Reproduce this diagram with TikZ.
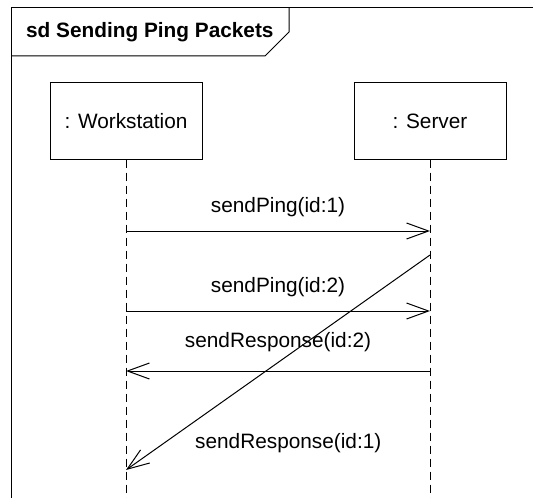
\documentclass[tikz,border=0pt]{standalone}
\usepackage{fontspec}
\setmainfont{Liberation Sans}
\usetikzlibrary{arrows.meta,positioning}
\tikzset{>/.tip={Straight Barb[length=11pt,width=8pt]}}
\tikzset{lifebox/.style={draw,minimum width=76pt,minimum height=38pt,inner sep=0pt}}
\tikzset{lifeline/.style={dash pattern=on 4pt off 2.5pt}}
\tikzset{msg/.style={->}}

\begin{document}
\begin{tikzpicture}[x=0.5pt,y=-0.5pt,line width=0.5pt,font=\fontsize{10.4pt}{12pt}\selectfont]
      \useasboundingbox (0,0) rectangle (533,497);
      % frame
      \draw (11,510) -- (11,8) -- (545,8);
      \draw (11,56) -- (265,56) -- (289,32) -- (289,8);
      \node[anchor=west,font=\fontsize{10.4pt}{12pt}\selectfont\bfseries](title) at (19,32){sd Sending Ping Packets};

      % lifelines
      \node[lifebox](ws) at (126,121){: Workstation};
      \node[lifebox,right=75.5pt of ws](srv){: Server};
      \coordinate(wsend) at (ws.south |- 0,505);
      \coordinate(srvend) at (srv.south |- 0,505);
      \draw[lifeline] (ws) -- (wsend);
      \draw[lifeline] (srv) -- (srvend);

      % messages
      \coordinate(ping1a) at (ws.south |- 0,231);
      \coordinate(ping1b) at (srv.south |- 0,231);
      \coordinate(ping2a) at (ws.south |- 0,311);
      \coordinate(ping2b) at (srv.south |- 0,311);
      \coordinate(resp2a) at (srv.south |- 0,371);
      \coordinate(resp2b) at (ws.south |- 0,371);
      \coordinate(resp1a) at (srv.south |- 0,255);
      \coordinate(resp1b) at (ws.south |- 0,470);

      \draw[msg] (ping1a) -- node[above=3.5pt](ping1){sendPing(id:1)} (ping1b);
      \draw[msg] (ping2a) -- node[above=3.5pt](ping2){sendPing(id:2)} (ping2b);
      \draw[msg] (resp2a) -- node[above=6pt](resp2){sendResponse(id:2)} (resp2b);
      \draw[msg] (resp1a) -- node[pos=0.875,anchor=west,xshift=12pt](resp1){sendResponse(id:1)} (resp1b);
    \end{tikzpicture}
\end{document}
